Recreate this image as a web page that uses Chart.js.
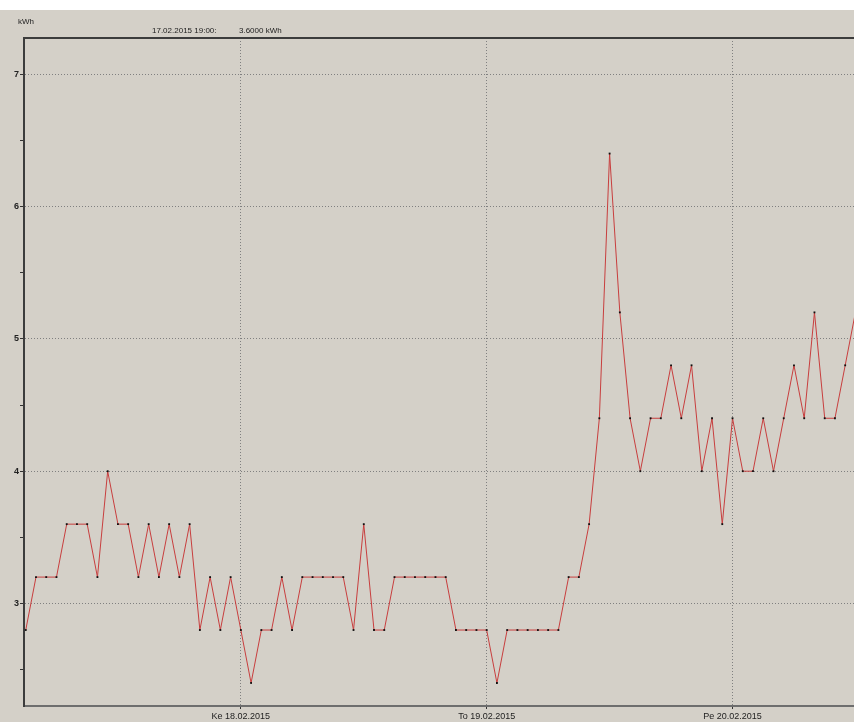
<!DOCTYPE html>
<html lang="fi">
<head>
<meta charset="UTF-8" />
<title>kWh 17.02.2015 - 20.02.2015</title>
<script src="https://cdn.jsdelivr.net/npm/chart.js"></script>
<style>
  html, body { margin: 0; padding: 0; background: #d4d0c8; }
  #chart { display: block; }
</style>
</head>
<body>
<canvas id="chart" width="854" height="722"></canvas>
<script>
  // hourly readings, first one 17.02.2015 03:00
  const startLabel = '17.02.2015 03:00';
  const kwh = [
    2.8, 3.2, 3.2, 3.2, 3.6, 3.6, 3.6, 3.2, 4.0, 3.6, 3.6, 3.2, 3.6, 3.2, 3.6, 3.2, 3.6, 2.8, 3.2, 2.8, 3.2,
    2.8, 2.4, 2.8, 2.8, 3.2, 2.8, 3.2, 3.2, 3.2, 3.2, 3.2, 2.8, 3.6, 2.8, 2.8, 3.2, 3.2, 3.2, 3.2, 3.2, 3.2, 2.8, 2.8, 2.8,
    2.8, 2.4, 2.8, 2.8, 2.8, 2.8, 2.8, 2.8, 3.2, 3.2, 3.6, 4.4, 6.4, 5.2, 4.4, 4.0, 4.4, 4.4, 4.8, 4.4, 4.8, 4.0, 4.4, 3.6,
    4.4, 4.0, 4.0, 4.4, 4.0, 4.4, 4.8, 4.4, 5.2, 4.4, 4.4, 4.8, 5.2
  ];
  // hour index (from start) of each day tick
  const dayTicks = [21, 45, 69];
  const dayLabels = ['Ke 18.02.2015', 'To 19.02.2015', 'Pe 20.02.2015'];
  const yTicks = [2.5, 3, 3.5, 4, 4.5, 5, 5.5, 6, 6.5, 7];
  const unitLabel = 'kWh';
  const cursorTime = '17.02.2015 19:00:';
  const cursorValue = '3.6000 kWh';

  const points = kwh.map((v, i) => ({ x: i, y: v }));

  const FONT = '"Liberation Sans", Arial, sans-serif';

  const frame = {
    id: 'frame',
    beforeDraw(chart) {
      const c = chart.ctx;
      c.save();
      c.fillStyle = '#ffffff';
      c.fillRect(0, 0, chart.width, 10);
      c.fillStyle = '#d4d0c8';
      c.fillRect(0, 10, chart.width, chart.height - 10);
      c.restore();
    },
    afterDraw(chart) {
      const c = chart.ctx;
      const a = chart.chartArea;
      c.save();
      c.strokeStyle = '#3c3c3c';
      c.lineWidth = 2;
      c.beginPath();
      c.moveTo(a.left - 1, a.top);
      c.lineTo(chart.width, a.top);
      c.stroke();
      c.fillStyle = '#222';
      c.font = '8px ' + FONT;
      c.textBaseline = 'middle';
      c.fillText(unitLabel, 18, 22);
      c.fillText(cursorTime, 152, 31);
      c.fillText(cursorValue, 239, 31);
      c.restore();
    }
  };

  new Chart(document.getElementById('chart'), {
    type: 'line',
    data: {
      datasets: [{
        label: startLabel,
        data: points,
        borderColor: 'rgb(200, 62, 62)',
        borderWidth: 1,
        tension: 0,
        clip: 0,
        pointStyle: 'rect',
        pointRadius: 1.3,
        pointBackgroundColor: '#111',
        pointBorderColor: '#111',
        pointBorderWidth: 0
      }]
    },
    options: {
      responsive: false,
      animation: false,
      devicePixelRatio: 1,
      layout: { autoPadding: false, padding: { top: 38, right: 0, left: 0, bottom: 0 } },
      plugins: { legend: { display: false }, tooltip: { enabled: false } },
      scales: {
        x: {
          type: 'linear',
          min: -0.17,
          max: 80.86,
          afterBuildTicks: s => { s.ticks = dayTicks.map(v => ({ value: v })); },
          afterFit: s => { s.height = 16; s.paddingLeft = 0; s.paddingRight = 0; },
          ticks: {
            autoSkip: false,
            maxRotation: 0,
            padding: 2,
            color: '#222',
            font: { family: FONT, size: 9 },
            callback: v => dayLabels[dayTicks.indexOf(v)]
          },
          grid: {
            color: '#808080',
            tickLength: 3,
            tickColor: '#333'
          },
          border: { color: '#6e6e6e', width: 2, dash: [1, 2] }
        },
        y: {
          min: 2.226,
          max: 7.273,
          afterBuildTicks: s => { s.ticks = yTicks.map(v => ({ value: v })); },
          afterFit: s => { s.width = 24; s.paddingTop = 0; s.paddingBottom = 0; },
          ticks: {
            autoSkip: false,
            padding: 1,
            color: '#222',
            font: { family: FONT, size: 9, weight: 'bold' },
            callback: v => Number.isInteger(v) ? String(v) : ''
          },
          grid: {
            color: c => Number.isInteger(c.tick.value) ? '#808080' : 'rgba(0,0,0,0)',
            tickLength: 4,
            tickColor: '#333'
          },
          border: { color: '#3c3c3c', width: 2, dash: [1, 2] }
        }
      }
    },
    plugins: [frame]
  });
</script>
</body>
</html>
